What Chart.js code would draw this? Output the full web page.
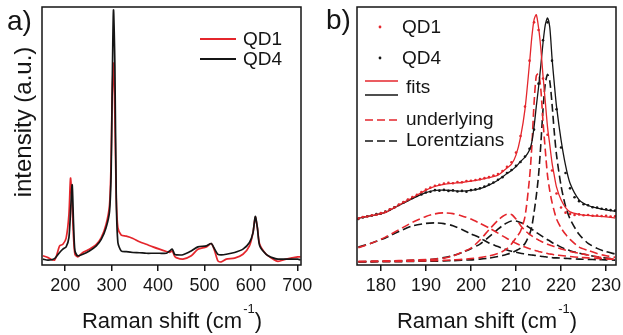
<!DOCTYPE html>
<html>
<head>
<meta charset="utf-8">
<script src="https://cdn.jsdelivr.net/npm/chart.js@4.4.1/dist/chart.umd.min.js"></script>
<style>
  body { margin: 0; background: #fff; }
  #wrap { position: relative; width: 623px; height: 335px; }
  canvas { position: absolute; top: 0; }
  #ca { left: 0; }
  #cb { left: 312px; }
</style>
</head>
<body>
<div id="wrap">
  <canvas id="ca" width="316" height="335"></canvas>
  <canvas id="cb" width="311" height="335"></canvas>
</div>
<script>
// ---- panel a) full spectra ----
const aShift = [152, 163, 177, 188, 195, 202, 208, 211.5, 215, 218, 221, 227, 238, 252, 267, 277.6, 288, 295.5, 299, 301,
  304, 307, 310, 313.5, 320.7, 331.5, 346, 360, 374.6, 389, 403, 418, 425, 430.6, 435.6, 439, 453.6, 471.6, 486, 504,
  514.7, 522, 529, 536, 547, 565, 583, 597, 604.5, 609.5, 614, 619, 633, 647.6, 658.4, 676, 701, 707];
const aQD1 = [2.6, 1.9, 0.9, 6.5, 7.1, 9.5, 18.7, 33, 22, 9.7, 3.2, 2.2, 3.9, 5.2, 7.1, 9.7, 14.9, 22.6, 40.7, 64,
  78, 57.5, 25.2, 13.6, 10.7, 10.3, 9.4, 8.1, 7.1, 6.1, 5.2, 4.3, 3.9, 4.5, 2.5, 1.9, 1.3, 2.6, 5.2, 6.1,
  7.4, 4.5, 0.6, 0.2, 1.3, 1.7, 3.2, 6.5, 11.6, 17.7, 13.6, 7.1, 3.2, 1.3, 0.4, 1.3, 2.2, 2.2];
const aQD4 = [1.3, 0.9, 1.5, 3.9, 5.2, 6.1, 9.7, 20, 30.4, 14.9, 4.5, 2.6, 3.2, 4.5, 6.5, 9, 13.6, 20, 35.5, 64,
  98.8, 77, 25, 7.8, 4.5, 4.2, 3.9, 3.8, 3.6, 3.6, 3.6, 3.6, 4.5, 5.2, 3.2, 3.0, 3.0, 4.5, 6.1, 6.5,
  7.4, 5.2, 3.2, 3.0, 3.2, 3.9, 5.2, 7.8, 11.6, 18, 13.6, 6.5, 3.2, 1.8, 1.3, 1.3, 1.3, 1.0];
const aTicks = [200, 300, 400, 500, 600, 700];

// ---- panel b) fits around 215 cm-1 ----
const bShift = [175, 178, 181, 184, 187, 190, 192, 194, 196, 198, 200, 202, 204, 206, 207, 208, 209, 210, 211, 212, 213,
  213.5, 214, 214.5, 215, 215.5, 216, 216.5, 217, 217.5, 218, 218.5, 219, 220, 221, 222, 224, 226, 228, 230, 232];
const fitQD1 = [17.4, 18.3, 19.6, 22.5, 25.3, 28.3, 29.8, 30.6, 31.0, 31.3, 31.8, 32.4, 33.2, 34.2, 35.5, 37, 38.5, 42, 49, 60, 78,
  88, 95, 97, 92, 84, 73, 63, 53, 46, 39, 34, 29.5, 24.5, 21.5, 19.8, 18.8, 18.4, 18.1, 17.8, 17.4];
const fitQD4 = [17.4, 18.3, 19.6, 22.3, 25, 27.3, 28.2, 28.3, 28.1, 27.9, 28.2, 28.9, 30.3, 32.2, 33.5, 34.8, 36, 37.5, 39.5, 41.2, 44,
  47, 53, 61, 68.5, 77, 86, 93, 95.7, 92, 80, 70, 61, 48, 38, 31, 24.5, 22.3, 21.3, 20.6, 20];
const lorQD1Broad = [5.8, 7.6, 9.9, 12.8, 15.7, 18.0, 19.0, 19.4, 19.1, 18.2, 17.0, 15.3, 13.5, 11.5, 10.4, 9.4, 8.5, 7.5, 6.7, 6.0, 5.4,
  5.1, 4.8, 4.6, 4.3, 4.1, 3.9, 3.7, 3.5, 3.3, 3.2, 3.0, 2.9, 2.7, 2.5, 2.3, 2.0, 1.8, 1.6, 1.4, 1.2];
const lorQD1Mid = [0.4, 0.5, 0.6, 0.7, 0.9, 1.1, 1.3, 1.7, 2.5, 4.0, 5.6, 8.8, 12.8, 16.5, 18.0, 18.9, 18.8, 17.0, 14.5, 12.5, 11.0,
  10.4, 9.8, 9.3, 8.8, 8.3, 7.9, 7.5, 7.1, 6.8, 6.5, 6.2, 5.9, 5.3, 4.8, 4.3, 3.6, 2.9, 2.2, 1.6, 1.2];
const lorQD1Sharp = [0.3, 0.3, 0.4, 0.4, 0.5, 0.6, 0.7, 0.8, 1.0, 1.2, 1.5, 1.9, 2.5, 3.5, 4.3, 5.4, 7.2, 9.6, 12.2, 18, 33,
  45, 62, 73, 74, 68, 55, 44, 34, 28, 23.5, 20, 17, 13.5, 11, 9, 6, 4.7, 3.5, 2.6, 2.0];
const lorQD4Broad = [6.0, 7.6, 9.6, 12.1, 14.3, 15.3, 15.5, 15.2, 14.4, 12.9, 11.2, 9.6, 7.6, 6.2, 5.5, 4.9, 4.4, 4.0, 3.6, 3.3, 3.0,
  2.9, 2.8, 2.7, 2.5, 2.4, 2.3, 2.2, 2.1, 2.0, 1.9, 1.8, 1.8, 1.7, 1.6, 1.5, 1.3, 1.2, 1.1, 1.0, 0.9];
const lorQD4Mid = [0.3, 0.4, 0.5, 0.6, 0.8, 1.0, 1.3, 1.9, 2.7, 3.9, 5.4, 7.2, 10.0, 13.0, 14.4, 15.5, 16.2, 16.2, 15.6, 14.8, 13.6,
  13.0, 12.4, 11.8, 11.2, 10.6, 10.0, 9.4, 8.9, 8.4, 7.8, 7.3, 6.9, 6.0, 5.2, 4.6, 3.6, 2.9, 2.2, 1.7, 1.3];
const lorQD4Sharp = [0.2, 0.2, 0.3, 0.3, 0.4, 0.5, 0.5, 0.6, 0.7, 0.9, 1.0, 1.3, 1.7, 2.3, 2.7, 3.2, 3.8, 4.6, 5.6, 7.4, 11.0,
  14.0, 19.5, 26, 34, 46, 60, 70, 73.6, 71, 62, 51, 42, 30, 22, 17, 11, 7.5, 5.5, 4.2, 3.3];

// measured points
const dotShift = [175, 176, 177, 178, 179, 180, 181, 182, 183, 184, 185, 186, 187, 188, 189, 190, 191, 192, 193, 194,
  195, 196, 197, 198, 199, 200, 201, 202, 203, 204, 205, 206, 207, 208, 209, 210, 211, 212, 213, 214,
  215, 216, 217, 218, 219, 220, 221, 222, 223, 224, 225, 226, 227, 228, 229, 230, 231, 232];
const dotQD1 = [17.2, 17.8, 18.0, 18.5, 18.7, 19.3, 19.8, 20.8, 21.5, 22.7, 23.6, 24.6, 25.6, 26.5, 27.6, 28.5, 29.3, 30.0, 30.4, 30.9,
  31.2, 31.0, 31.5, 31.4, 31.9, 32.0, 32.3, 32.6, 33.0, 33.4, 34.0, 34.6, 35.8, 37.4, 39.2, 43.0, 49.5, 61, 79, 94,
  91, 72, 50, 36, 27, 21.5, 19.5, 19.0, 18.6, 18.8, 18.5, 18.6, 18.3, 18.4, 18.2, 18.3, 18.0, 18.1];
const dotQD4 = [17.0, 17.6, 18.1, 18.4, 18.9, 19.2, 19.9, 20.7, 21.6, 22.5, 23.4, 24.4, 25.2, 26.0, 26.6, 27.4, 27.7, 28.3, 28.1, 28.4,
  28.0, 28.2, 27.8, 28.0, 27.7, 28.3, 28.6, 29.0, 29.7, 30.5, 31.3, 32.4, 33.4, 35.0, 36.2, 37.8, 39.3, 41.5, 44.5, 52,
  70, 87, 94, 79, 60, 45, 35, 29, 25.5, 24, 22.8, 22.4, 21.6, 21.5, 21.0, 20.8, 20.5, 20.3];
const bTicks = [180, 190, 200, 210, 220, 230];

const legendA = ['QD1', 'QD4'];
const legendB = ['QD1', 'QD4', 'fits', 'underlying', 'Lorentzians'];

const RED = '#e4262c';
const INK = '#151515';
const FONT = '"Liberation Sans", Arial, sans-serif';

const pts = (xs, ys) => xs.map((x, i) => ({ x: x, y: ys[i] }));

function line(data, color, dash, width, order) {
  return {
    data: data, borderColor: color, borderWidth: width, borderDash: dash || [],
    pointRadius: 0, tension: 0.25, order: order, fill: false,
  };
}

function dots(data, color, order) {
  return {
    data: data, showLine: false, pointRadius: 1.3, pointBorderWidth: 0,
    pointBackgroundColor: color, borderColor: color, order: order,
  };
}

function drawXTitle(ctx, cx, base) {
  ctx.fillStyle = INK;
  ctx.textBaseline = 'alphabetic';
  ctx.textAlign = 'left';
  ctx.font = '22px ' + FONT;
  const main = 'Raman shift (cm';
  const w1 = ctx.measureText(main).width;
  const w3 = ctx.measureText(')').width;
  ctx.font = '13px ' + FONT;
  const w2 = ctx.measureText('-1').width;
  let x = cx - (w1 + w2 + w3) / 2;
  ctx.font = '22px ' + FONT;
  ctx.fillText(main, x, base);
  ctx.font = '13px ' + FONT;
  ctx.fillText('-1', x + w1 + 1, base - 15);
  ctx.font = '22px ' + FONT;
  ctx.fillText(')', x + w1 + w2 + 1, base);
}

function frameAndText(extra) {
  return {
    id: 'frameAndText',
    afterDraw(chart) {
      const ctx = chart.ctx, a = chart.chartArea;
      ctx.save();
      ctx.strokeStyle = INK;
      ctx.lineWidth = 1.5;
      ctx.strokeRect(a.left, a.top, a.right - a.left, a.bottom - a.top);
      drawXTitle(ctx, (a.left + a.right) / 2, 328);
      extra(ctx, a);
      ctx.restore();
    }
  };
}

function scalesFor(min, max, tickVals, yWidth) {
  return {
    x: {
      type: 'linear', min: min, max: max,
      afterBuildTicks: s => { s.ticks = tickVals.map(v => ({ value: v })); },
      afterFit: s => { s.height = 70; s.paddingLeft = 0; s.paddingRight = 0; },
      ticks: { color: INK, font: { family: FONT, size: 18 }, padding: 4, autoSkip: false, maxRotation: 0 },
      grid: { display: true, drawOnChartArea: false, drawTicks: true, tickLength: 6, color: INK, lineWidth: 1.5 },
      border: { display: false },
    },
    y: {
      min: -1, max: 100,
      afterFit: s => { s.width = yWidth; },
      ticks: { display: false },
      grid: { display: false, drawTicks: false },
      border: { display: false },
    }
  };
}

const common = {
  responsive: false, animation: false, events: [],
  plugins: { legend: { display: false }, tooltip: { enabled: false } },
};

new Chart(document.getElementById('ca'), {
  type: 'line',
  data: {
    datasets: [
      line(pts(aShift, aQD4), INK, null, 1.7, 0),
      line(pts(aShift, aQD1), RED, null, 1.7, 1),
    ]
  },
  options: Object.assign({}, common, {
    layout: { padding: { left: 0, top: 7, right: 15, bottom: 0 } },
    scales: scalesFor(150, 708, aTicks, 42),
  }),
  plugins: [frameAndText((ctx, a) => {
    ctx.fillStyle = INK;
    ctx.font = '28px ' + FONT;
    ctx.textBaseline = 'alphabetic';
    ctx.fillText('a)', 7, 30);
    // y title
    ctx.save();
    ctx.translate(24, 122);
    ctx.rotate(-Math.PI / 2);
    ctx.textAlign = 'center';
    ctx.textBaseline = 'middle';
    ctx.font = '24px ' + FONT;
    ctx.fillText('intensity (a.u.)', 0, 0);
    ctx.restore();
    // legend
    const rows = [[legendA[0], RED, 39], [legendA[1], INK, 59]];
    ctx.font = '19px ' + FONT;
    ctx.textBaseline = 'middle';
    ctx.textAlign = 'left';
    rows.forEach(r => {
      ctx.strokeStyle = r[1];
      ctx.lineWidth = 2;
      ctx.setLineDash([]);
      ctx.beginPath(); ctx.moveTo(200, r[2]); ctx.lineTo(236, r[2]); ctx.stroke();
      ctx.fillStyle = INK;
      ctx.fillText(r[0], 243, r[2] + 1);
    });
  })]
});

new Chart(document.getElementById('cb'), {
  type: 'line',
  data: {
    datasets: [
      dots(pts(dotShift, dotQD1), RED, 0),
      dots(pts(dotShift, dotQD4), INK, 1),
      line(pts(bShift, fitQD1), RED, null, 1.3, 2),
      line(pts(bShift, fitQD4), INK, null, 1.3, 3),
      line(pts(bShift, lorQD1Broad), RED, [8, 4], 1.6, 4),
      line(pts(bShift, lorQD1Mid), RED, [8, 4], 1.6, 4),
      line(pts(bShift, lorQD1Sharp), RED, [8, 4], 1.6, 4),
      line(pts(bShift, lorQD4Broad), INK, [8, 4], 1.6, 5),
      line(pts(bShift, lorQD4Mid), INK, [8, 4], 1.6, 5),
      line(pts(bShift, lorQD4Sharp), INK, [8, 4], 1.6, 5),
    ]
  },
  options: Object.assign({}, common, {
    layout: { padding: { left: 0, top: 7, right: 7, bottom: 0 } },
    scales: scalesFor(174.7, 232.2, bTicks, 45),
  }),
  plugins: [frameAndText((ctx, a) => {
    ctx.fillStyle = INK;
    ctx.font = '28px ' + FONT;
    ctx.textBaseline = 'alphabetic';
    ctx.fillText('b)', 14, 29);
    ctx.font = '19px ' + FONT;
    ctx.textBaseline = 'middle';
    ctx.textAlign = 'left';
    // point legend
    [[legendB[0], RED, 27], [legendB[1], INK, 58]].forEach(r => {
      ctx.fillStyle = r[1];
      ctx.beginPath(); ctx.arc(68, r[2], 1.4, 0, Math.PI * 2); ctx.fill();
      ctx.fillStyle = INK;
      ctx.fillText(r[0], 90, r[2] + 1);
    });
    // line legend
    const seg = (y, color, dash) => {
      ctx.strokeStyle = color; ctx.lineWidth = 1.5; ctx.setLineDash(dash);
      ctx.beginPath(); ctx.moveTo(53, y); ctx.lineTo(86, y); ctx.stroke();
    };
    seg(81, RED, []); seg(95, INK, []);
    seg(120, RED, [8, 4]); seg(141, INK, [8, 4]);
    ctx.setLineDash([]);
    ctx.fillStyle = INK;
    ctx.fillText(legendB[2], 94, 88);
    ctx.fillText(legendB[3], 94, 120);
    ctx.fillText(legendB[4], 94, 141);
  })]
});
</script>
</body>
</html>
